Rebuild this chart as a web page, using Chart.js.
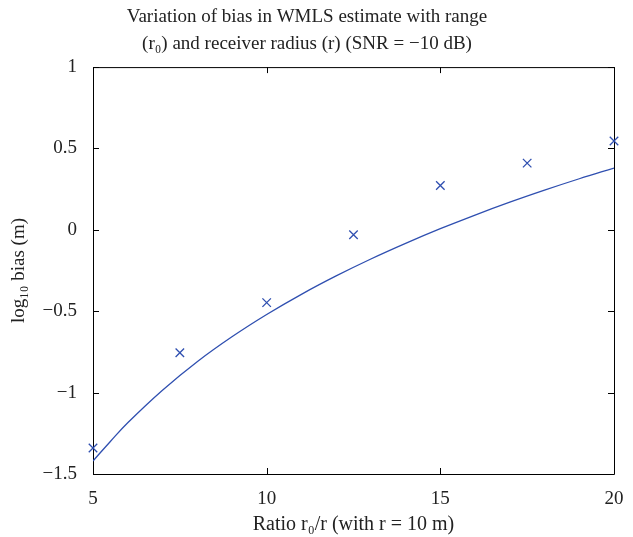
<!DOCTYPE html>
<html>
<head>
<meta charset="utf-8">
<script src="https://cdn.jsdelivr.net/npm/chart.js@4"></script>
<style>
  html, body { margin: 0; padding: 0; background: #fff; }
  #wrap { width: 633px; height: 537px; }
</style>
</head>
<body>
<div id="wrap"><canvas id="biasChart" width="633" height="537"></canvas></div>
<script>
// values
const curve_x = [5, 5.5, 6, 7, 8, 9, 10, 11, 12, 13, 14, 15, 16, 17, 18, 19, 20];
const curve_y = [-1.42, -1.30, -1.185, -0.985, -0.81, -0.657, -0.52, -0.396, -0.283, -0.179, -0.083, 0.007, 0.091, 0.17, 0.244, 0.314, 0.38];
const sim_x = [5, 7.5, 10, 12.5, 15, 17.5, 20];
const sim_y = [-1.34, -0.755, -0.447, -0.03, 0.273, 0.41, 0.546];
const x_ticks = [5, 10, 15, 20];
const y_ticks = [-1.5, -1, -0.5, 0, 0.5, 1];

const blue = '#2f4fb0';
const serif = "'Liberation Serif', 'DejaVu Serif', serif";

const toPts = (xs, ys) => xs.map((x, i) => ({ x: x, y: ys[i] }));
const minus = v => String(v).replace('-', '\u2212');

// box + inward ticks on all four sides, like the original
const frameTicks = {
  id: 'frameTicks',
  beforeDatasetsDraw(chart) {
    const { ctx, chartArea: a, scales } = chart;
    const len = 6;
    ctx.save();
    ctx.strokeStyle = '#000';
    ctx.lineWidth = 1;
    ctx.beginPath();
    ctx.rect(a.left + 0.5, a.top + 0.5, a.right - a.left, a.bottom - a.top);
    x_ticks.forEach(v => {
      const px = Math.round(scales.x.getPixelForValue(v)) + 0.5;
      ctx.moveTo(px, a.bottom); ctx.lineTo(px, a.bottom - len);
      ctx.moveTo(px, a.top); ctx.lineTo(px, a.top + len);
    });
    y_ticks.forEach(v => {
      const py = Math.round(scales.y.getPixelForValue(v)) + 0.5;
      ctx.moveTo(a.left, py); ctx.lineTo(a.left + len, py);
      ctx.moveTo(a.right, py); ctx.lineTo(a.right - len, py);
    });
    ctx.stroke();
    ctx.restore();
  }
};

Chart.defaults.font.family = serif;
Chart.defaults.color = '#222';

const ctxBias = document.getElementById('biasChart').getContext('2d');
const chart_bias = new Chart(ctxBias, {
  type: 'scatter',
  data: {
    datasets: [
      {
        label: 'theory',
        type: 'line',
        data: toPts(curve_x, curve_y),
        borderColor: blue,
        borderWidth: 1.3,
        pointRadius: 0,
        tension: 0.4,
        fill: false,
      },
      {
        label: 'simulation',
        data: toPts(sim_x, sim_y),
        pointStyle: 'crossRot',
        pointRadius: 6,
        borderColor: blue,
        borderWidth: 1.3,
        backgroundColor: blue,
        clip: false,
      },
    ],
  },
  options: {
    responsive: false,
    animation: false,
    layout: { padding: { left: 0, right: 19, top: 0, bottom: 0 } },
    plugins: {
      legend: { display: false },
      tooltip: { enabled: false },
      title: {
        display: true,
        text: ['Variation of bias in WMLS estimate with range',
               '(r\u2080) and receiver radius (r) (SNR = \u221210 dB)'],
        font: { size: 19, weight: 'normal', lineHeight: 1.45 },
        color: '#222',
        padding: { top: 3, bottom: 9 },
      },
    },
    scales: {
      x: {
        type: 'linear',
        min: 5, max: 20,
        grid: { display: false },
        border: { display: false },
        afterBuildTicks: s => { s.ticks = x_ticks.map(v => ({ value: v })); },
        afterFit: s => { s.height = 63; },
        ticks: { font: { size: 19 }, padding: 6, maxRotation: 0, callback: v => minus(v) },
        title: {
          display: true,
          text: 'Ratio r\u2080/r (with r = 10 m)',
          font: { size: 20 },
          padding: { top: 4, bottom: 0 },
        },
      },
      y: {
        min: -1.5, max: 1,
        grid: { display: false },
        border: { display: false },
        afterBuildTicks: s => { s.ticks = y_ticks.map(v => ({ value: v })); },
        afterFit: s => { s.width = 93; },
        ticks: { font: { size: 19 }, padding: 8, callback: v => minus(v) },
        title: {
          display: true,
          text: 'log\u2081\u2080 bias (m)',
          font: { size: 19 },
          padding: { top: 8, bottom: 4 },
        },
      },
    },
  },
  plugins: [frameTicks],
});
</script>
</body>
</html>
